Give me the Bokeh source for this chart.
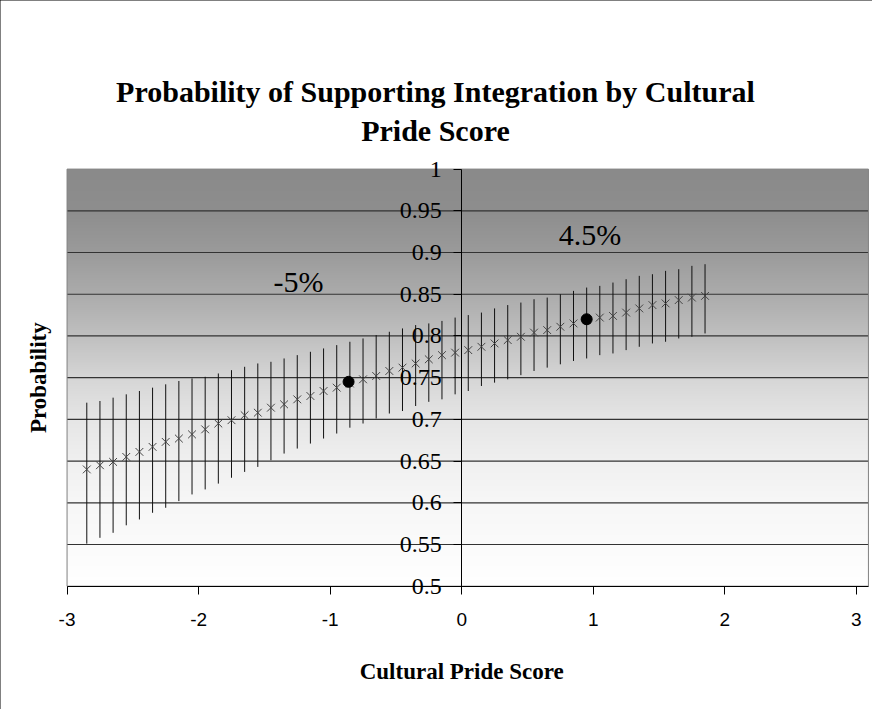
import numpy as np
from bokeh.plotting import figure
from bokeh.models import Label, FixedTicker, Range1d
from bokeh.embed import file_html
from bokeh.resources import INLINE

# ---------------- data ----------------
score = [-2.85, -2.75, -2.65, -2.55, -2.45, -2.35, -2.25, -2.15, -2.05, -1.95,
         -1.85, -1.75, -1.65, -1.55, -1.45, -1.35, -1.25, -1.15, -1.05, -0.95,
         -0.85, -0.75, -0.65, -0.55, -0.45, -0.35, -0.25, -0.15, -0.05, 0.05,
         0.15, 0.25, 0.35, 0.45, 0.55, 0.65, 0.75, 0.85, 0.95, 1.05,
         1.15, 1.25, 1.35, 1.45, 1.55, 1.65, 1.75, 1.85]
prob = [0.640, 0.645, 0.649, 0.655, 0.661, 0.667, 0.673, 0.677, 0.682, 0.688,
        0.695, 0.699, 0.705, 0.708, 0.714, 0.718, 0.724, 0.728, 0.734, 0.738,
        0.743, 0.748, 0.752, 0.758, 0.762, 0.767, 0.772, 0.777, 0.780, 0.783,
        0.787, 0.791, 0.795, 0.799, 0.804, 0.807, 0.811, 0.815, 0.819, 0.822,
        0.824, 0.828, 0.833, 0.837, 0.839, 0.843, 0.846, 0.848]
upper = [0.720, 0.722, 0.726, 0.730, 0.734, 0.738, 0.742, 0.746, 0.749, 0.751,
         0.755, 0.759, 0.763, 0.767, 0.769, 0.773, 0.777, 0.781, 0.785, 0.789,
         0.793, 0.797, 0.801, 0.805, 0.809, 0.813, 0.815, 0.818, 0.822, 0.825,
         0.828, 0.833, 0.837, 0.840, 0.844, 0.846, 0.850, 0.854, 0.858, 0.860,
         0.864, 0.868, 0.872, 0.874, 0.878, 0.880, 0.884, 0.886]
lower = [0.551, 0.558, 0.564, 0.573, 0.580, 0.588, 0.594, 0.602, 0.610, 0.616,
         0.623, 0.630, 0.637, 0.643, 0.651, 0.659, 0.665, 0.671, 0.677, 0.683,
         0.690, 0.695, 0.701, 0.707, 0.710, 0.716, 0.721, 0.724, 0.730, 0.734,
         0.740, 0.744, 0.748, 0.753, 0.758, 0.762, 0.766, 0.770, 0.773, 0.777,
         0.779, 0.783, 0.787, 0.791, 0.793, 0.797, 0.799, 0.803]

dot_score = [-0.86, 0.95]
dot_prob = [0.745, 0.820]

x_ticks = [-3, -2, -1, 0, 1, 2, 3]
x_tick_labels = ["-3", "-2", "-1", "0", "1", "2", "3"]
y_ticks = [0.5, 0.55, 0.6, 0.65, 0.7, 0.75, 0.8, 0.85, 0.9, 0.95, 1.0]
y_tick_labels = ["0.5", "0.55", "0.6", "0.65", "0.7", "0.75", "0.8", "0.85", "0.9", "0.95", "1"]

annot_text = ["-5%", "4.5%"]
annot_x = [-1.24, 0.975]
annot_y = [0.865, 0.922]

title_lines = ["Probability of Supporting Integration by Cultural", "Pride Score"]
x_title = "Cultural Pride Score"
y_title = "Probability"

# ---------------- layout constants ----------------
PX0, PX1 = -3.0, 3.092
PY0, PY1 = 0.5, 1.0
CX0, CX1 = -3.506, 3.123
CY0, CY1 = 0.3522, 1.2021

p = figure(width=872, height=709, x_range=Range1d(CX0, CX1), y_range=Range1d(CY0, CY1),
           output_backend="svg", toolbar_location=None,
           min_border=0, min_border_left=0, min_border_right=0,
           min_border_top=0, min_border_bottom=0)
p.title.visible = False
p.styles = {"outline": "1px solid #000000", "outline-offset": "-1px"}
p.background_fill_color = "white"
p.border_fill_color = "white"
p.outline_line_color = None
p.xgrid.visible = False
p.ygrid.visible = False

# gradient background of the plot area (dark grey at top -> white at bottom)
grad_v = [0.5, 0.55, 0.6, 0.65, 0.7, 0.75, 0.8, 0.85, 0.9, 0.95, 1.0]
grad_g = [255, 251, 247, 240, 230, 214, 192, 172, 155, 142, 138]
rows = 400
yy = np.linspace(PY0, PY1, rows)
g = np.interp(yy, grad_v, grad_g).astype(np.uint8)
img = np.zeros((rows, 1), dtype=np.uint32)
view = img.view(dtype=np.uint8).reshape((rows, 1, 4))
view[:, 0, 0] = g
view[:, 0, 1] = g
view[:, 0, 2] = g
view[:, 0, 3] = 255
bg = p.image_rgba(image=[img], x=PX0, y=PY0, dw=PX1 - PX0, dh=PY1 - PY0)
bg.level = "image"

# horizontal gridlines (inside the plot area only)
grid_y = y_ticks[1:-1]
p.segment(x0=[PX0] * len(grid_y), y0=grid_y, x1=[PX1] * len(grid_y), y1=grid_y,
          line_color="#333333", line_width=1.2)
# plot-area border
p.quad(left=[PX0], right=[PX1], bottom=[PY0], top=[PY1],
       fill_color=None, line_color="#808080", line_width=1)

# error bars, x markers, highlighted dots
p.segment(x0=score, y0=lower, x1=score, y1=upper, line_color="#111111", line_width=1)
p.scatter(x=score, y=prob, marker="x", size=11, line_color="#444444", line_width=1)
p.scatter(x=dot_score, y=dot_prob, marker="circle", size=11,
          fill_color="black", line_color="black")

# y axis crossing at x = 0
yax = p.yaxis[0]
yax.fixed_location = 0
yax.bounds = (PY0, PY1)
yax.ticker = FixedTicker(ticks=y_ticks)
yax.major_label_overrides = {t: l for t, l in zip(y_ticks, y_tick_labels)}
yax.axis_line_color = "black"
yax.major_tick_line_color = "black"
yax.major_tick_out = 8
yax.major_tick_in = 0
yax.minor_tick_out = 0
yax.minor_tick_in = 0
yax.major_label_standoff = 12
yax.major_label_text_font = "Liberation Serif"
yax.major_label_text_font_size = "24px"
yax.major_label_text_color = "black"

# x axis along the bottom of the plot area
xax = p.xaxis[0]
xax.fixed_location = PY0
xax.bounds = (PX0, PX1)
xax.ticker = FixedTicker(ticks=x_ticks)
xax.major_label_overrides = {t: l for t, l in zip(x_ticks, x_tick_labels)}
xax.axis_line_color = "black"
xax.major_tick_line_color = "black"
xax.major_tick_out = 8
xax.major_tick_in = 0
xax.minor_tick_out = 0
xax.minor_tick_in = 0
xax.major_label_standoff = 19
xax.major_label_text_font = "Liberation Sans"
xax.major_label_text_font_size = "19px"
xax.major_label_text_color = "black"

# axis titles
p.add_layout(Label(x=0.0, y=0.3983, text=x_title,
                   text_align="center", text_baseline="middle",
                   text_font="Liberation Serif", text_font_style="bold",
                   text_font_size="23px", text_color="black"))
p.add_layout(Label(x=-3.2136, y=0.75, text=y_title, angle=np.pi / 2,
                   text_align="center", text_baseline="middle",
                   text_font="Liberation Serif", text_font_style="bold",
                   text_font_size="23px", text_color="black"))

# chart title (two lines)
for txt, ty in zip(title_lines, [1.0934, 1.0461]):
    p.add_layout(Label(x=-0.1995, y=ty, text=txt, text_align="center", text_baseline="middle",
                       text_font="Liberation Serif", text_font_style="bold",
                       text_font_size="30px", text_color="black"))

# percentage annotations
for txt, ax_, ay_ in zip(annot_text, annot_x, annot_y):
    p.add_layout(Label(x=ax_, y=ay_, text=txt, text_align="center", text_baseline="middle",
                       text_font="Liberation Serif", text_font_size="30px", text_color="black"))

open("out.html", "w").write(file_html(p, INLINE))
